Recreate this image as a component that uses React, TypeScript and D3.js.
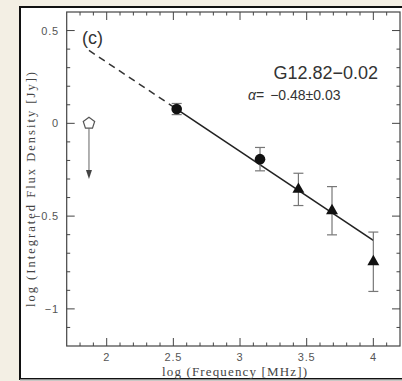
import React from "react";
import * as d3 from "d3";

const logFreq = [2.525, 3.15, 3.438, 3.69, 4.0];
const logFlux = [0.077, -0.193, -0.356, -0.471, -0.746];
const fluxErr = [0.03, 0.063, 0.087, 0.13, 0.16];
const markerKind = ["circle", "circle", "triangle", "triangle", "triangle"];

const limitFreq = [1.867];
const limitFlux = [0.0];
const limitArrowTo = [-0.3];

const fitIntercept = 1.289;
const fitSlope = -0.48;
const fitSolid = [2.525, 4.0];
const fitDashed = [1.867, 2.525];

const xTicks = [2, 2.5, 3, 3.5, 4];
const xTickLabels = ["2", "2.5", "3", "3.5", "4"];
const yTicks = [0.5, 0, -0.5, -1];
const yTickLabels = ["0.5", "0", "−0.5", "−1"];

const W = 402;
const H = 381;
const L = 66.7, R = 400, T = 12, B = 346;

export default function App() {
  const x = d3.scaleLinear().domain([1.7, 4.2]).range([L, R]);
  const y = d3.scaleLinear().domain([-1.2, 0.6]).range([B, T]);
  const fit = (v: number) => fitIntercept + fitSlope * v;
  const line = d3.line<number>().x((d) => x(d)).y((d) => y(fit(d)));

  const xMinor = d3.range(17, 43).map((v) => v / 10).filter((v) => v > 1.7 && v < 4.2);
  const yMinor = d3.range(-12, 7).map((v) => v / 10).filter((v) => v > -1.2 && v < 0.6);
  const isMajorX = (v: number) => xTicks.some((t) => Math.abs(t - v) < 1e-6);
  const isMajorY = (v: number) => yTicks.some((t) => Math.abs(t - v) < 1e-6);

  const tri = d3.symbol().type(d3.symbolTriangle).size(62)();
  const pent = (cx: number, cy: number, r: number) =>
    d3.range(5).map((i) => {
      const a = -Math.PI / 2 + (i * 2 * Math.PI) / 5;
      return [cx + r * Math.cos(a), cy + r * Math.sin(a)].join(",");
    }).join(" ");

  const tickColor = "#444";
  const labelFont = "Liberation Sans, Arial, sans-serif";
  const serif = "Liberation Serif, Times New Roman, serif";

  return (
    <svg width={W} height={H} style={{ position: "absolute", left: 0, top: 0 }}>
      <rect x={0} y={0} width={W} height={H} fill="#f3efe4" />
      <rect x={20} y={7} width={400} height={372} fill="#ffffff" stroke="#111" strokeWidth={2} />
      <line x1={20} x2={402} y1={380} y2={380} stroke="#bbb" strokeWidth={1.5} />

      {/* frame */}
      <rect x={L} y={T} width={R - L} height={B - T} fill="none" stroke="#444" strokeWidth={1.2} />

      {/* ticks */}
      {xMinor.map((v, i) => {
        const len = isMajorX(v) ? 8 : 3.5;
        return (
          <g key={"xt" + i} stroke={tickColor} strokeWidth={1}>
            <line x1={x(v)} x2={x(v)} y1={B} y2={B - len} />
            <line x1={x(v)} x2={x(v)} y1={T} y2={T + len} />
          </g>
        );
      })}
      {yMinor.map((v, i) => {
        const len = isMajorY(v) ? 8 : 3.5;
        return (
          <g key={"yt" + i} stroke={tickColor} strokeWidth={1}>
            <line x1={L} x2={L + len} y1={y(v)} y2={y(v)} />
            <line x1={R - len} x2={R} y1={y(v)} y2={y(v)} />
          </g>
        );
      })}

      {xTicks.map((v, i) => (
        <text key={"xl" + i} x={x(v)} y={360.5} textAnchor="middle" fontFamily={labelFont} fontSize={11} letterSpacing={0.8} fill="#555">
          {xTickLabels[i]}
        </text>
      ))}
      {yTicks.map((v, i) => (
        <text key={"yl" + i} x={59} y={y(v) + 4} textAnchor="end" fontFamily={labelFont} fontSize={11} letterSpacing={0.8} fill="#555">
          {yTickLabels[i]}
        </text>
      ))}

      <text x={162} y={376} textLength={145} lengthAdjust="spacing" fontFamily={serif} fontSize={13} fill="#444">
        log (Frequency [MHz])
      </text>
      <text
        transform={`translate(35,307) rotate(-90)`}
        textLength={235}
        lengthAdjust="spacing"
        fontFamily={serif}
        fontSize={12.5}
        fill="#444"
      >
        log (Integrated Flux Density [Jy])
      </text>

      {/* fit line */}
      <path d={line(fitDashed) || ""} fill="none" stroke="#333" strokeWidth={1.5} strokeDasharray="7,5" />
      <path d={line(fitSolid) || ""} fill="none" stroke="#222" strokeWidth={1.6} />

      {/* error bars */}
      {logFreq.map((f, i) => {
        const cx = x(f);
        const y1 = y(logFlux[i] + fluxErr[i]);
        const y2 = y(logFlux[i] - fluxErr[i]);
        return (
          <g key={"eb" + i} stroke="#777" strokeWidth={1.2}>
            <line x1={cx} x2={cx} y1={y1} y2={y2} />
            <line x1={cx - 5} x2={cx + 5} y1={y1} y2={y1} />
            <line x1={cx - 5} x2={cx + 5} y1={y2} y2={y2} />
          </g>
        );
      })}

      {/* markers */}
      {logFreq.map((f, i) =>
        markerKind[i] === "circle" ? (
          <circle key={"m" + i} cx={x(f)} cy={y(logFlux[i])} r={5.3} fill="#111" />
        ) : (
          <path key={"m" + i} d={tri || ""} transform={`translate(${x(f)},${y(logFlux[i])})`} fill="#111" />
        )
      )}

      {/* upper limit */}
      {limitFreq.map((f, i) => {
        const cx = x(f);
        const cy = y(limitFlux[i]);
        const ty = y(limitArrowTo[i]);
        return (
          <g key={"ul" + i}>
            <line x1={cx} x2={cx} y1={cy + 5} y2={ty - 6} stroke="#888" strokeWidth={1.3} />
            <path d={`M${cx - 3},${ty - 9} L${cx + 3},${ty - 9} L${cx},${ty} Z`} fill="#444" />
            <polygon points={pent(cx, cy, 6)} fill="#fff" stroke="#555" strokeWidth={1.2} />
          </g>
        );
      })}

      {/* annotations */}
      <text x={82} y={44} fontFamily={labelFont} fontSize={18} fill="#333">(c)</text>
      <text x={378} y={79} textAnchor="end" fontFamily={labelFont} fontSize={18} fill="#333">G12.82−0.02</text>
      <text x={248} y={100} fontFamily={labelFont} fontSize={14} fill="#333">
        <tspan fontStyle="italic">α</tspan>
        <tspan>=</tspan>
        <tspan dx={6}>−0.48±0.03</tspan>
      </text>
    </svg>
  );
}
